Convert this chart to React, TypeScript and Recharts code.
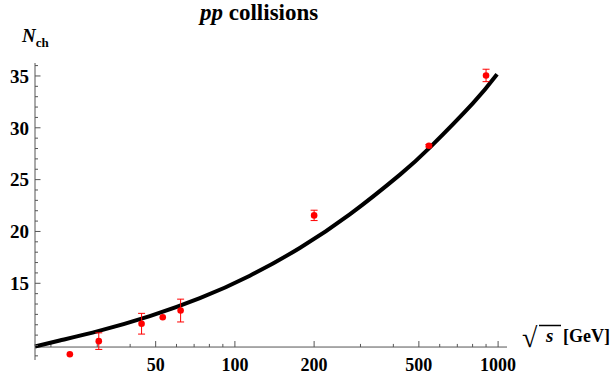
import { ComposedChart, Line, Scatter, ErrorBar, XAxis, YAxis, ReferenceLine } from 'recharts'

// measured points (sqrt(s) in GeV, mean charged multiplicity)
const energies = [23.6, 30.4, 44.2, 53.2, 62.2, 200, 546, 900]
const nch = [8.15, 9.42, 11.1, 11.73, 12.37, 21.55, 28.27, 35.05]
const nchErr = [0, 0.8, 1.0, 0, 1.1, 0.5, 0.12, 0.6]

// fitted curve
const fitEnergies = [17.4, 21.6, 30.7, 47.5, 73.6, 114, 177, 274, 424, 551, 803, 991]
const fitNch = [8.9, 9.48, 10.43, 11.83, 13.56, 15.73, 18.43, 21.67, 25.48, 28.11, 32.38, 35.16]

const xLabels = [50, 100, 200, 500, 1000]
const xMinor = [20, 30, 40, 60, 70, 80, 90, 300, 400, 600, 700, 800, 900]
const yLabels = [15, 20, 25, 30, 35]
const yTicks = [8, 9, 10, 11, 12, 13, 14, 15, 16, 17, 18, 19, 20, 21, 22, 23, 24, 25, 26, 27, 28, 29, 30, 31, 32, 33, 34, 35, 36]

const X_DOMAIN = [17.4, 1081]
const Y_DOMAIN = [7.6, 36.25]
const X_AXIS_AT = 8.85

const points = energies.map((x, i) => ({ x, y: nch[i], err: nchErr[i] }))
const fit = fitEnergies.map((x, i) => ({ x, y: fitNch[i] }))

const AXIS = '#555'
const FONT = '"Liberation Serif", "Times New Roman", serif'
const TICK_MARGIN = 6

function YTick(props: any) {
  const { x, y, payload } = props
  const v = payload.value
  const major = yLabels.includes(v)
  const ax = x + TICK_MARGIN
  return (
    <g>
      <line x1={ax} x2={ax + (major ? 5.5 : 3)} y1={y} y2={y} stroke={AXIS} />
      {major && (
        <text x={x} y={y} dy="0.36em" textAnchor="end" fontFamily={FONT} fontWeight="bold" fontSize={19} fill="#000">
          {v}
        </text>
      )}
    </g>
  )
}

function XTick(props: any) {
  const { x, y, payload } = props
  return (
    <text x={x} y={y} dy={10.5} textAnchor="middle" fontFamily={FONT} fontWeight="bold" fontSize={18} fill="#000">
      {payload.value}
    </text>
  )
}

function Dot(props: any) {
  return <circle cx={props.cx} cy={props.cy} r={3.3} fill="#ff0000" />
}

export default function App() {
  return (
    <div style={{ position: 'absolute', left: 0, top: 0, width: 614, height: 374, background: '#fff' }}>
      <ComposedChart width={614} height={374} margin={{ top: 63, right: 107, bottom: 0, left: 5 }}>
        <XAxis
          type="number"
          dataKey="x"
          scale="log"
          domain={X_DOMAIN}
          ticks={xLabels}
          interval={0}
          axisLine={false}
          tickLine={false}
          tickSize={0}
          tickMargin={0}
          height={14}
          tick={<XTick />}
        />
        <YAxis
          type="number"
          domain={Y_DOMAIN}
          ticks={yTicks}
          interval={0}
          width={30}
          axisLine={{ stroke: AXIS }}
          tickLine={false}
          tickSize={0}
          tickMargin={TICK_MARGIN}
          tick={<YTick />}
        />
        <ReferenceLine y={X_AXIS_AT} stroke={AXIS} />
        {xLabels.map((t) => (
          <ReferenceLine key={'M' + t} stroke={AXIS} segment={[{ x: t, y: X_AXIS_AT }, { x: t, y: X_AXIS_AT + 0.58 }]} />
        ))}
        {xMinor.map((t) => (
          <ReferenceLine key={'m' + t} stroke={AXIS} segment={[{ x: t, y: X_AXIS_AT }, { x: t, y: X_AXIS_AT + 0.3 }]} />
        ))}
        <Line
          data={fit}
          dataKey="y"
          type="natural"
          stroke="#000"
          strokeWidth={4}
          dot={false}
          isAnimationActive={false}
        />
        <Scatter data={points} dataKey="y" shape={<Dot />} isAnimationActive={false}>
          <ErrorBar dataKey="err" direction="y" width={3.5} stroke="#ff0000" strokeWidth={1} />
        </Scatter>
      </ComposedChart>
      <svg width={614} height={374} style={{ position: 'absolute', left: 0, top: 0, pointerEvents: 'none' }}>
        <text x={200} y={20} fontFamily={FONT} fontWeight="bold" fontSize={23} fill="#000">
          <tspan fontStyle="italic">pp</tspan> collisions
        </text>
        <text x={22} y={42} fontFamily={FONT} fontWeight="bold" fontSize={19} fill="#000">
          <tspan fontStyle="italic">N</tspan>
          <tspan fontSize={13} dy={5}>ch</tspan>
        </text>
        <text x={522} y={347} fontFamily={FONT} fontWeight="bold" fontSize={28} fill="#000">√</text>
        <line x1={539} x2={561} y1={325.5} y2={325.5} stroke="#000" strokeWidth={1.5} />
        <text x={546} y={342} fontFamily={FONT} fontStyle="italic" fontWeight="bold" fontSize={19} fill="#000">s</text>
        <text x={563} y={342} fontFamily={FONT} fontWeight="bold" fontSize={18} fill="#000">[GeV]</text>
      </svg>
    </div>
  )
}
